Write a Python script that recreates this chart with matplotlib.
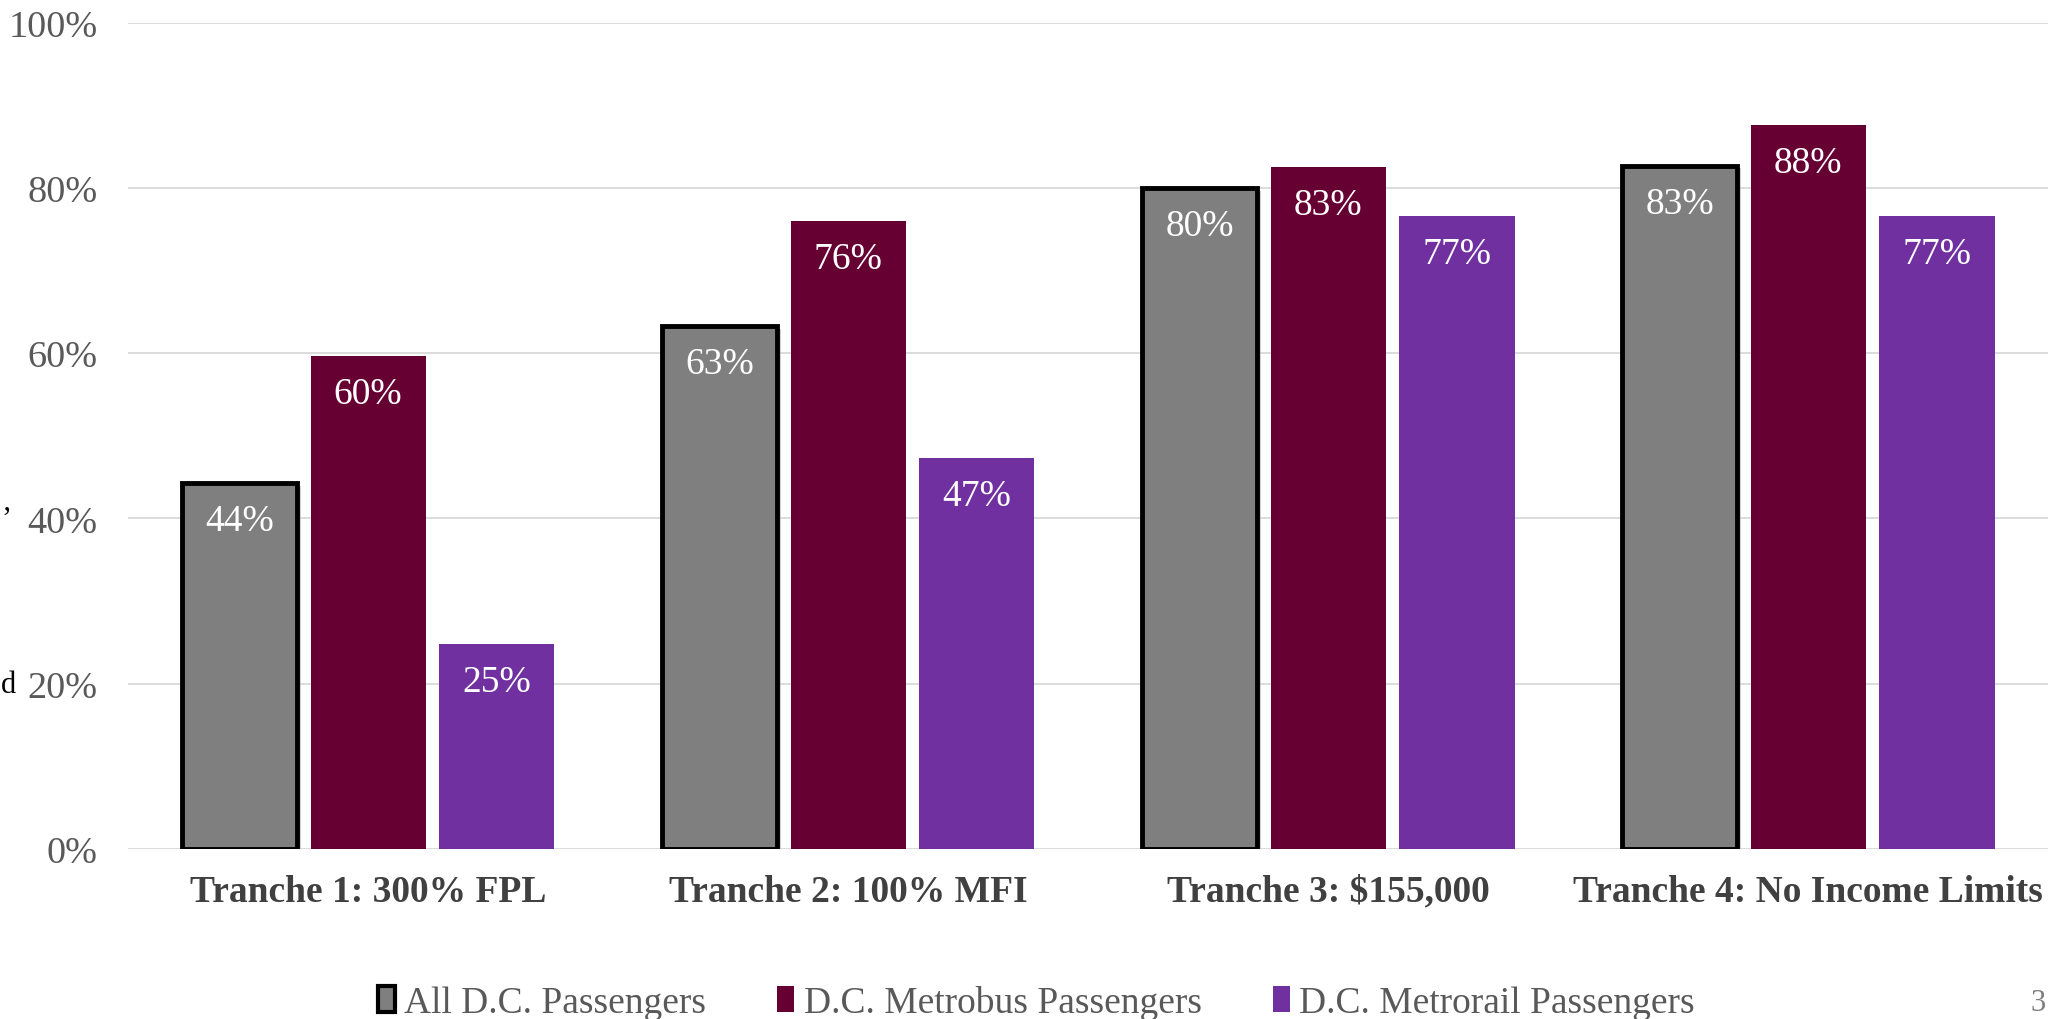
import matplotlib.pyplot as plt
import matplotlib.patheffects as pe
import numpy as np
from matplotlib.patches import Patch

categories = ["Tranche 1: 300% FPL", "Tranche 2: 100% MFI",
              "Tranche 3: $155,000", "Tranche 4: No Income Limits"]
series = ["All D.C. Passengers", "D.C. Metrobus Passengers", "D.C. Metrorail Passengers"]
all_dc = [0.443, 0.633, 0.800, 0.827]
metrobus = [0.597, 0.760, 0.826, 0.876]
metrorail = [0.248, 0.473, 0.766, 0.766]
yticks = [0, 0.2, 0.4, 0.6, 0.8, 1.0]

colors = ["#7f7f7f", "#660033", "#7030a0"]
plt.rcParams['font.family'] = ['Liberation Serif', 'DejaVu Serif']

fig = plt.figure(figsize=(20.56, 10.20), dpi=100)
ax = fig.add_axes([0.0623, 0.1667, 0.934, 0.81])

x = np.arange(len(categories))
w = 0.24
pitch = 0.268
shadow = [pe.SimplePatchShadow(offset=(3, -2), shadow_rgbFace="#b0b0b0", alpha=0.6), pe.Normal()]
for k, (vals, col) in enumerate(zip([all_dc, metrobus, metrorail], colors)):
    xs = x + (k - 1) * pitch
    if k == 0:
        bars = ax.bar(xs, vals, w, color=col, edgecolor="black", linewidth=3.5, zorder=3)
        for b in bars:
            b.set_path_effects(shadow)
    else:
        bars = ax.bar(xs, vals, w, color=col, zorder=3)
    for xi, v in zip(xs, vals):
        ax.annotate(f"{v*100:.0f}%", (xi, v), xytext=(0, -38), textcoords="offset pixels",
                    ha="center", va="center", color="white", fontsize=27, zorder=4)

ax.set_xlim(-0.5, 3.5)
ax.set_ylim(0, 1.0)
ax.set_yticks(yticks)
ax.set_yticklabels([f"{t*100:.0f}%" for t in yticks], color="#595959", fontsize=27.5)
ax.set_xticks(x)
ax.set_xticklabels(categories, fontsize=27, fontweight="bold", color="#404040")
ax.tick_params(axis="both", length=0)
ax.tick_params(axis="x", pad=18)
ax.tick_params(axis="y", pad=22)
ax.grid(axis="y", color="#d9d9d9", linewidth=1.3, zorder=0)
for s in ax.spines.values():
    s.set_visible(False)
ax.set_axisbelow(True)

handles = [Patch(facecolor=colors[0], edgecolor="black", linewidth=3),
           Patch(facecolor=colors[1]), Patch(facecolor=colors[2])]
fig.legend(handles, series, loc="lower center", bbox_to_anchor=(0.504, -0.034), ncol=3,
           frameon=False, fontsize=27, handlelength=0.45, handleheight=0.7,
           handletextpad=0.25, columnspacing=1.9, labelcolor="#595959")

fig.text(0.995, 0.002, "3", ha="right", va="bottom", fontsize=22, color="#7f7f7f")
fig.text(0.0005, 0.328, "d", ha="left", va="center", fontsize=22, color="black")
fig.text(0.0005, 0.49, "’", ha="left", va="center", fontsize=22, color="black")

fig.savefig("out.png", dpi=100)
